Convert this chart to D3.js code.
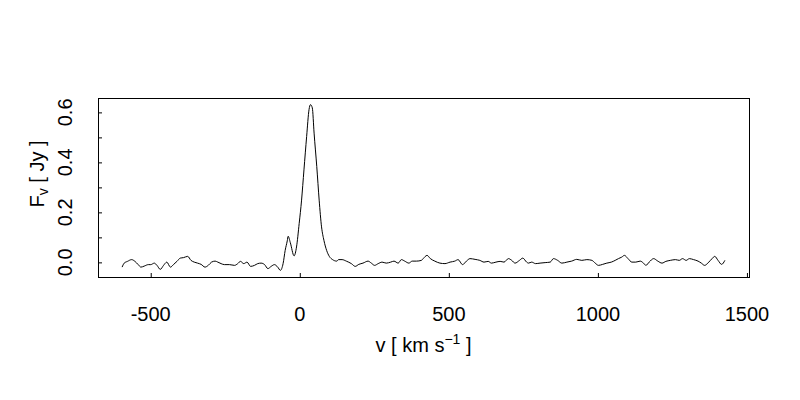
<!DOCTYPE html>
<html>
<head>
<meta charset="utf-8">
<script src="https://cdn.jsdelivr.net/npm/d3@7/dist/d3.min.js"></script>
<style>
  html, body { margin: 0; padding: 0; background: #fff; }
  svg { display: block; }
  text { font-family: "Liberation Sans", Arial, Helvetica, sans-serif; fill: #000; }
</style>
</head>
<body>
<script>
// velocity (km/s)
const velocity = [-596,-589,-578,-564,-553,-542,-533,-522,-508,-500,-488,-479,-468,-457,-446,-434,-423,-412,-401,-390,-376,-365,-354,-343,-331,-318,-307,-296,-284,-275,
-264,-253,-236,-219,-208,-199,-188,-177,-165,-152,-141,-130,-118,-107,-96,-85,-74,-65,-56,-49,-42,-39,-32,-19,-11,-2,6,14,23,31,36,42,48,57,65,73,81,90,99,110,124,
130,142,156,173,186,198,212,229,240,251,263,276,290,305,316,330,341,352,366,377,391,408,
414,427,438,453,470,487,504,520,531,546,559,571,588,604,618,632,643,658,672,685,700,711,722,737,748,761,
767,778,791,806,823,840,851,865,879,896,912,929,946,963,980,991,1002,1016,1030,1045,1058,1069,1080,1089,1101,
1114,1127,1142,1153,1161,1172,1187,1201,1215,1228,1243,1260,1273,1284,1296,1307,1321,1336,1347,1358,1372,1383,1392,1403,1415,1426];
// flux density (Jy)
const flux = [-0.019,-0.003,0.004,0.011,0.004,-0.009,-0.019,-0.015,-0.009,-0.009,-0.003,-0.012,-0.028,-0.012,0.001,-0.019,-0.008,0.004,0.017,0.019,0.024,0.008,0.001,-0.003,-0.008,-0.019,-0.012,0.001,0.005,0.001,
-0.005,-0.009,-0.009,-0.012,-0.005,0.004,-0.005,0.001,-0.016,-0.012,-0.005,-0.003,-0.009,-0.025,-0.016,-0.009,-0.019,-0.032,-0.005,0.048,0.086,0.1045,0.080,0.026,0.0615,0.156,0.249,0.370,0.504,0.611,0.631,0.618,0.517,0.383,0.249,0.142,0.088,0.048,0.024,0.011,0.005,
0.011,0.011,0.005,-0.005,-0.016,-0.008,-0.003,0.005,-0.003,-0.012,-0.005,0.001,-0.003,0.001,0.005,-0.003,0.011,0.005,-0.003,0.005,0.005,0.008,
0.015,0.028,0.015,0.005,-0.003,-0.005,0.001,0.005,0.011,-0.009,0.005,0.015,0.012,0.008,0.001,0.004,-0.003,0.001,0.004,0.001,0.015,0.008,-0.003,0.008,0.017,0.001,
-0.003,0.001,-0.005,-0.003,-0.001,0.001,0.015,0.008,-0.003,0.001,0.005,0.012,0.008,0.011,0.008,-0.003,-0.012,-0.008,-0.003,0.001,0.008,0.015,0.021,0.028,0.015,
0.001,0.001,0.005,-0.003,-0.012,0.001,0.015,0.005,-0.003,0.004,0.008,0.011,0.008,0.015,0.008,0.015,0.011,0.005,-0.003,-0.012,0.001,0.015,0.024,0.008,-0.008,0.008];
const xTicks = [-500, 0, 500, 1000, 1500];
const yTicks = [0.0, 0.1, 0.2, 0.3, 0.4, 0.5, 0.6];
const yTickLabels = ["0.0", "", "0.2", "", "0.4", "", "0.6"];

const W = 800, H = 400;
const plot = {left: 98, top: 98, right: 749, bottom: 277};
const data = velocity.map((v, i) => ({v, f: flux[i]}));

function rPad(ext) { const d = (ext[1] - ext[0]) * 0.04; return [ext[0] - d, ext[1] + d]; }

const x = d3.scaleLinear().domain(rPad(d3.extent(velocity))).range([plot.left, plot.right]);
const y = d3.scaleLinear().domain(rPad(d3.extent(flux))).range([plot.bottom, plot.top]);

const svg = d3.select("body").append("svg").attr("width", W).attr("height", H);

// data line
svg.append("path")
  .datum(data)
  .attr("fill", "none")
  .attr("stroke", "#000")
  .attr("stroke-width", 1)
  .attr("d", d3.line().x(d => x(d.v)).y(d => y(d.f)).curve(d3.curveMonotoneX));

// axes (ticks inside)
const xAxis = d3.axisBottom(x).tickValues(xTicks).tickSizeInner(-4).tickSizeOuter(0).tickFormat(d3.format("d"));
const gx = svg.append("g").attr("transform", `translate(0,${plot.bottom})`).call(xAxis);
gx.select(".domain").remove();
gx.selectAll("line").attr("stroke", "#000");
gx.selectAll("text").remove();
svg.append("g").selectAll("text").data(xTicks).join("text")
  .attr("x", d => x(d)).attr("y", 321)
  .attr("text-anchor", "middle").attr("font-size", 20)
  .text(d => d3.format("d")(d).replace("−", "-"));

const yAxis = d3.axisLeft(y).tickValues(yTicks).tickSizeInner(-4).tickSizeOuter(0);
const gy = svg.append("g").attr("transform", `translate(${plot.left},0)`).call(yAxis);
gy.select(".domain").remove();
gy.selectAll("line").attr("stroke", "#000");
gy.selectAll("text").remove();
svg.append("g").selectAll("text").data(yTicks.map((t, i) => ({t, l: yTickLabels[i]})).filter(d => d.l)).join("text")
  .attr("transform", d => `translate(72,${y(d.t)}) rotate(-90)`)
  .attr("text-anchor", "middle").attr("font-size", 20)
  .text(d => d.l);

// frame
svg.append("rect")
  .attr("x", plot.left + 0.5).attr("y", plot.top + 0.5)
  .attr("width", plot.right - plot.left).attr("height", plot.bottom - plot.top)
  .attr("fill", "none").attr("stroke", "#000").attr("stroke-width", 1);

// x title
const xt = svg.append("text").attr("x", (plot.left + plot.right) / 2).attr("y", 352)
  .attr("text-anchor", "middle").attr("font-size", 20);
xt.append("tspan").text("v [ km s");
xt.append("tspan").attr("font-size", 14).attr("dy", -8).text("\u22121");
xt.append("tspan").attr("dy", 8).text(" ]");

// y title
const yt = svg.append("text").attr("transform", `translate(44,174) rotate(-90)`)
  .attr("text-anchor", "middle").attr("font-size", 20);
yt.append("tspan").text("F");
yt.append("tspan").attr("font-size", 14).attr("dy", 4).text("v");
yt.append("tspan").attr("dy", -4).text(" [ Jy ]");
</script>
</body>
</html>
